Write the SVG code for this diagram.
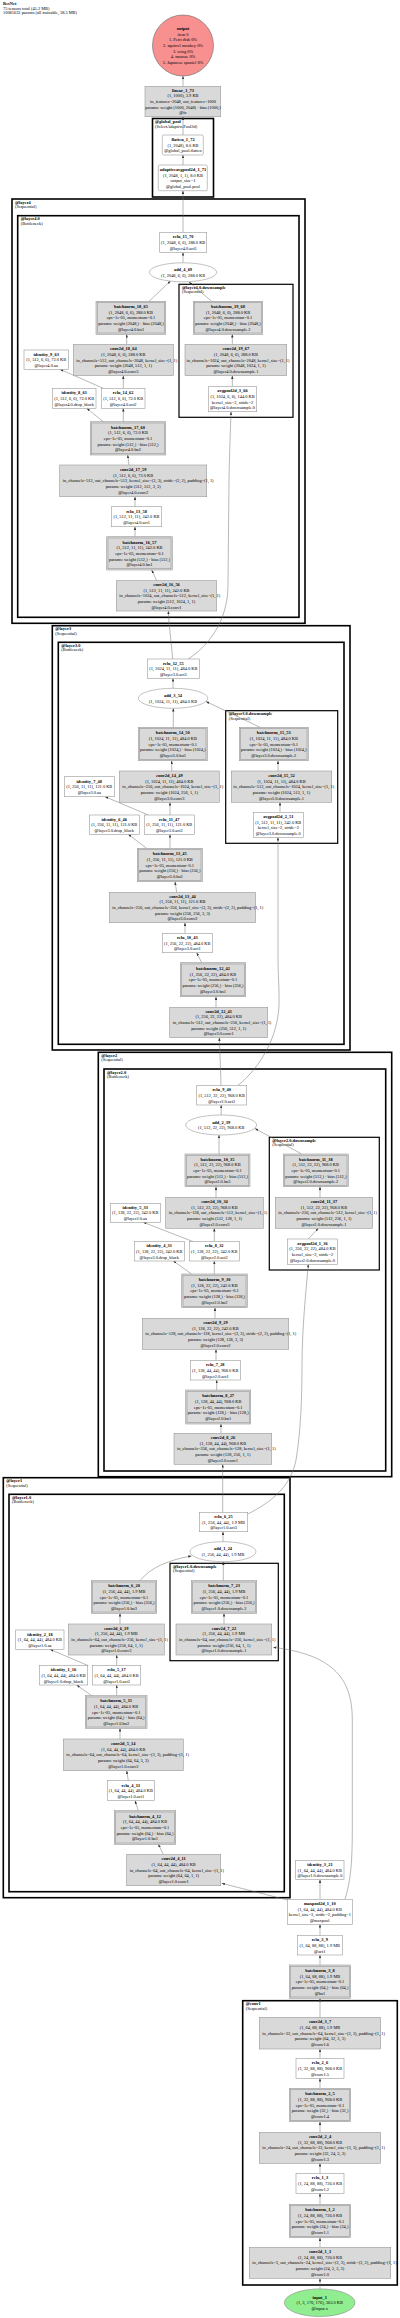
<svg xmlns="http://www.w3.org/2000/svg" width="400" height="2318" viewBox="0 0 400 2318">
<defs>
<marker id="a" markerWidth="3.2" markerHeight="2.4" refX="3.2" refY="1.2" orient="auto" markerUnits="userSpaceOnUse"><path d="M0,0 L3.2,1.2 L0,2.4 z" fill="#333"/></marker>
<style>
.t{font-family:"Liberation Serif",serif;font-size:4.4px;text-anchor:middle;fill:#000}
.b{font-weight:bold}
.s{text-anchor:start}
.p{fill:#d9d9d9;stroke:#999;stroke-width:0.6}
.w{fill:#fff;stroke:#999;stroke-width:0.6}
.d{fill:none;stroke:#999;stroke-width:0.6}
.c{fill:none;stroke:#000;stroke-width:1.6}
.c2{fill:none;stroke:#000;stroke-width:1.2}
.e{fill:none;stroke:#707070;stroke-width:0.5;marker-end:url(#a)}
</style>
</defs>
<rect width="400" height="2318" fill="#fff"/>
<g id="header">
<text class="t s b" x="3" y="5">ResNet</text>
<text class="t s" x="3" y="9.5">75 tensors total (45.2 MB)</text>
<text class="t s" x="3" y="13.8">10081632 params (all trainable, 38.5 MB)</text>
</g>
<g id="clusters">
<rect class="c" x="152.5" y="118.5" width="61" height="78.5"/>
<text class="t s b" x="155" y="123.2">@global_pool</text><text class="t s" x="155" y="127.5">(SelectAdaptivePool2d)</text>
<rect class="c" x="12" y="199" width="293" height="424.3"/>
<text class="t s b" x="15" y="203.7">@layer4</text><text class="t s" x="15" y="208">(Sequential)</text>
<rect class="c" x="17.7" y="215.7" width="281.3" height="401.6"/>
<text class="t s b" x="20.7" y="220.4">@layer4.0</text><text class="t s" x="20.7" y="224.7">(Bottleneck)</text>
<rect class="c2" x="179" y="284.3" width="114" height="133"/>
<text class="t s b" x="182" y="289">@layer4.0.downsample</text><text class="t s" x="182" y="293.3">(Sequential)</text>
<rect class="c" x="52.3" y="625.7" width="297.7" height="424.3"/>
<text class="t s b" x="55.3" y="630.4">@layer3</text><text class="t s" x="55.3" y="634.7">(Sequential)</text>
<rect class="c" x="58.3" y="642.3" width="285.7" height="402"/>
<text class="t s b" x="61.3" y="647">@layer3.0</text><text class="t s" x="61.3" y="651.3">(Bottleneck)</text>
<rect class="c2" x="225.7" y="710.7" width="112" height="132.6"/>
<text class="t s b" x="228.7" y="715.4">@layer3.0.downsample</text><text class="t s" x="228.7" y="719.7">(Sequential)</text>
<rect class="c" x="98.3" y="1052.3" width="293.4" height="424.4"/>
<text class="t s b" x="101.3" y="1057">@layer2</text><text class="t s" x="101.3" y="1061.3">(Sequential)</text>
<rect class="c" x="104" y="1069" width="281.7" height="402"/>
<text class="t s b" x="107" y="1073.7">@layer2.0</text><text class="t s" x="107" y="1078">(Bottleneck)</text>
<rect class="c2" x="269.3" y="1137.3" width="110" height="132.7"/>
<text class="t s b" x="272.3" y="1142">@layer2.0.downsample</text><text class="t s" x="272.3" y="1146.3">(Sequential)</text>
<rect class="c" x="3.3" y="1477.7" width="286.7" height="420"/>
<text class="t s b" x="6.3" y="1482.4">@layer1</text><text class="t s" x="6.3" y="1486.7">(Sequential)</text>
<rect class="c" x="9" y="1494.3" width="275.3" height="397.4"/>
<text class="t s b" x="12" y="1499">@layer1.0</text><text class="t s" x="12" y="1503.3">(Bottleneck)</text>
<rect class="c2" x="170" y="1563.3" width="108.3" height="97.4"/>
<text class="t s b" x="173" y="1568">@layer1.0.downsample</text><text class="t s" x="173" y="1572.3">(Sequential)</text>
<rect class="c" x="242.7" y="2000.7" width="154.6" height="284.3"/>
<text class="t s b" x="245.7" y="2005.4">@conv1</text><text class="t s" x="245.7" y="2009.7">(Sequential)</text>
</g>
<g id="connectors">
<path class="e" d="M183,86.3 L183,76"/>
<path class="e" d="M183,135 L183,116.7"/>
<path class="e" d="M183,165 L183,155"/>
<path class="e" d="M183,232.3 L183,190.7"/>
<path class="e" d="M183,262.8 L183,252.3"/>
<path class="e" d="M149,301.3 L170.5,281"/>
<path class="e" d="M211.7,301.3 L189,282"/>
<path class="e" d="M126.7,344.3 L126.7,334.3"/>
<path class="e" d="M232.3,344.3 L232.3,334.3"/>
<path class="e" d="M232.3,386.7 L232.3,375.7"/>
<path class="e" d="M103.3,388.3 L60,369.3"/>
<path class="e" d="M123.3,388.3 L123.3,375.7"/>
<path class="e" d="M103.3,421.7 L86.7,408.3"/>
<path class="e" d="M123.3,421.7 L123.3,408.3"/>
<path class="e" d="M129,465 L127.7,455"/>
<path class="e" d="M135,506.7 L135,496.7"/>
<path class="e" d="M135,536.7 L135,526.7"/>
<path class="e" d="M156.7,580.7 L151.7,570"/>
<path class="e" d="M172.7,659 C171,640 169,625 168.3,611"/>
<path class="e" d="M188.3,659 C214,642 228,615 228,585 L229,480 C229.5,450 230.5,430 231,411.7"/>
<path class="e" d="M173,688.3 L173,678.3"/>
<path class="e" d="M173.3,727.3 L173.3,708.3"/>
<path class="e" d="M260,727.3 L206,701.5"/>
<path class="e" d="M171.7,771 L171.7,760.7"/>
<path class="e" d="M278,771 L278,760.7"/>
<path class="e" d="M280,812.3 L280,802.3"/>
<path class="e" d="M148.3,815 L105,796.7"/>
<path class="e" d="M170,815 L170,802.3"/>
<path class="e" d="M146.7,848.3 L128.3,834.3"/>
<path class="e" d="M170,848.3 L170,834.3"/>
<path class="e" d="M176.7,892.3 L175,881.7"/>
<path class="e" d="M185,933.3 L185,922.7"/>
<path class="e" d="M201.7,962.7 L196.7,952.7"/>
<path class="e" d="M216,1007.3 L216,996.7"/>
<path class="e" d="M221,1085.7 C220.5,1065 219.7,1050 219.3,1037.7"/>
<path class="e" d="M237.7,1085.7 C262,1066 278,1035 279,1005 C279.5,990 278,975 278,960 L278,837.3"/>
<path class="e" d="M221.2,1115 L221.2,1105"/>
<path class="e" d="M219,1154 L219,1135"/>
<path class="e" d="M301.7,1154 L255,1128.5"/>
<path class="e" d="M216,1197.3 L216,1186.7"/>
<path class="e" d="M320,1197.3 L320,1186.7"/>
<path class="e" d="M308.3,1239 L318.3,1228.3"/>
<path class="e" d="M193.3,1241.7 L143.3,1222.3"/>
<path class="e" d="M214.3,1241.7 L214.3,1228.3"/>
<path class="e" d="M191.7,1274 L173.3,1261"/>
<path class="e" d="M214.3,1274 L214.3,1261"/>
<path class="e" d="M215,1318.3 L215,1307.7"/>
<path class="e" d="M216,1360.7 L216,1349.3"/>
<path class="e" d="M216.7,1390 L216.7,1380"/>
<path class="e" d="M221,1433.3 L221,1424"/>
<path class="e" d="M222.7,1512.3 L222.7,1464.3"/>
<path class="e" d="M247.7,1514 C272,1502 291,1486 296,1460 C301,1430 302,1395 302,1365 C302,1330 306,1290 308.3,1264.3"/>
<path class="e" d="M223,1541.7 L223,1531.7"/>
<path class="e" d="M140,1580.7 C150,1568 168,1560 191.5,1556"/>
<path class="e" d="M223.3,1580.7 L223.3,1561.7"/>
<path class="e" d="M120,1624 L120,1613.3"/>
<path class="e" d="M224,1624 L224,1613.3"/>
<path class="e" d="M345,1899.3 C351,1880 352.3,1860 352.3,1830 L352.3,1720 C352.3,1680 335,1655 273.3,1647.3"/>
<path class="e" d="M88.3,1665.7 L50,1649.3"/>
<path class="e" d="M116.7,1665.7 L116.7,1655"/>
<path class="e" d="M91.7,1695.7 L76.7,1685"/>
<path class="e" d="M116.7,1695.7 L116.7,1685"/>
<path class="e" d="M120,1739 L120,1728.3"/>
<path class="e" d="M128.3,1780.7 L126.7,1770.7"/>
<path class="e" d="M138.3,1810.7 L135,1800.7"/>
<path class="e" d="M163.3,1854.3 L158.3,1844.3"/>
<path class="e" d="M287.3,1900 L221.7,1883.3"/>
<path class="e" d="M320,1899.3 L320,1879.7"/>
<path class="e" d="M320,1935.7 L320,1924.3"/>
<path class="e" d="M320,1965 L320,1955"/>
<path class="e" d="M320,2017.3 L320,1998.3"/>
<path class="e" d="M320,2058.3 L320,2049"/>
<path class="e" d="M320,2088.3 L320,2078.3"/>
<path class="e" d="M320,2132.3 L320,2121.7"/>
<path class="e" d="M320,2173.3 L320,2163.3"/>
<path class="e" d="M320,2204.3 L320,2193.3"/>
<path class="e" d="M320,2247.3 L320,2237.7"/>
<path class="e" d="M320,2288.9 L320,2278.3"/>
</g>
<g id="output">
<circle cx="183" cy="45.5" r="30.5" fill="#f89090" stroke="#666" stroke-width="0.6"/>
<text class="t b" x="183" y="30">output</text>
<text class="t" x="183" y="35.7">item 0</text>
<text class="t" x="183" y="41.3">1. Petri dish 0%</text>
<text class="t" x="183" y="47">2. squirrel monkey 0%</text>
<text class="t" x="183" y="52.7">3. wing 0%</text>
<text class="t" x="183" y="58.3">4. mousse 0%</text>
<text class="t" x="183" y="64">5. Japanese spaniel 0%</text>
</g>
<g id="linear_1_73"><rect class="p" x="145" y="86.3" width="75.7" height="30.4"/>
<text class="t b" x="183" y="91.7">linear_1_73</text><text class="t" x="183" y="97.3">(1, 1000), 3.9 KB</text><text class="t" x="183" y="103">in_features=2048, out_features=1000</text><text class="t" x="183" y="108.7">params: weight (1000, 2048) · bias (1000,)</text><text class="t" x="183" y="114.3">@fc</text></g>
<g id="flatten_1_72"><rect class="w" x="162.3" y="135" width="41" height="20" rx="1.5"/>
<text class="t b" x="183" y="140.8">flatten_1_72</text><text class="t" x="183" y="146.5">(1, 2048), 8.0 KB</text><text class="t" x="183" y="152.2">@global_pool.flatten</text></g>
<g id="adaptiveavgpool2d_1_71"><rect class="w" x="158.3" y="165" width="49" height="25.7" rx="1.5"/>
<text class="t b" x="183" y="170.9">adaptiveavgpool2d_1_71</text><text class="t" x="183" y="176.5">(1, 2048, 1, 1), 8.0 KB</text><text class="t" x="183" y="182.2">output_size=1</text><text class="t" x="183" y="187.9">@global_pool.pool</text></g>
<g id="relu_15_70"><rect class="w" x="159.7" y="232.3" width="47" height="20"/>
<text class="t b" x="183.2" y="238.1">relu_15_70</text><text class="t" x="183.2" y="243.8">(1, 2048, 6, 6), 288.0 KB</text><text class="t" x="183.2" y="249.5">@layer4.0.act3</text></g>
<g id="add_4_69"><ellipse class="w" cx="183" cy="272.3" rx="33.7" ry="9.5"/>
<text class="t b" x="183" y="271">add_4_69</text><text class="t" x="183" y="276.7">(1, 2048, 6, 6), 288.0 KB</text></g>
<g id="batchnorm_18_65"><rect class="p" x="96" y="301.3" width="69.7" height="33"/><rect class="d" x="97.3" y="302.6" width="67.1" height="30.4"/>
<text class="t b" x="130.9" y="308">batchnorm_18_65</text><text class="t" x="130.9" y="313.6">(1, 2048, 6, 6), 288.0 KB</text><text class="t" x="130.9" y="319.3">eps=1e-05, momentum=0.1</text><text class="t" x="130.9" y="325">params: weight (2048,) · bias (2048,)</text><text class="t" x="130.9" y="330.6">@layer4.0.bn3</text></g>
<g id="batchnorm_19_68"><rect class="p" x="193.3" y="301.3" width="69.4" height="33"/><rect class="d" x="194.6" y="302.6" width="66.8" height="30.4"/>
<text class="t b" x="228" y="308">batchnorm_19_68</text><text class="t" x="228" y="313.6">(1, 2048, 6, 6), 288.0 KB</text><text class="t" x="228" y="319.3">eps=1e-05, momentum=0.1</text><text class="t" x="228" y="325">params: weight (2048,) · bias (2048,)</text><text class="t" x="228" y="330.6">@layer4.0.downsample.2</text></g>
<g id="conv2d_18_64"><rect class="p" x="73.3" y="344.3" width="100" height="31.4"/>
<text class="t b" x="123.3" y="350.2">conv2d_18_64</text><text class="t" x="123.3" y="355.8">(1, 2048, 6, 6), 288.0 KB</text><text class="t s" x="76.3" y="361.5">in_channels=512, out_channels=2048, kernel_size=(1, 1)</text><text class="t" x="123.3" y="367.2">params: weight (2048, 512, 1, 1)</text><text class="t" x="123.3" y="372.8">@layer4.0.conv3</text></g>
<g id="conv2d_19_67"><rect class="p" x="185" y="344.3" width="101.7" height="31.4"/>
<text class="t b" x="235.9" y="350.2">conv2d_19_67</text><text class="t" x="235.9" y="355.8">(1, 2048, 6, 6), 288.0 KB</text><text class="t s" x="186.5" y="361.5">in_channels=1024, out_channels=2048, kernel_size=(1, 1)</text><text class="t" x="235.9" y="367.2">params: weight (2048, 1024, 1, 1)</text><text class="t" x="235.9" y="372.8">@layer4.0.downsample.1</text></g>
<g id="identity_9_63"><rect class="w" x="24" y="350" width="44.3" height="19.3"/>
<text class="t b" x="46.2" y="355.5">identity_9_63</text><text class="t" x="46.2" y="361.2">(1, 512, 6, 6), 72.0 KB</text><text class="t" x="46.2" y="366.8">@layer4.0.aa</text></g>
<g id="avgpool2d_3_66"><rect class="w" x="208.3" y="386.7" width="48.4" height="25"/>
<text class="t b" x="232.5" y="392.2">avgpool2d_3_66</text><text class="t" x="232.5" y="397.9">(1, 1024, 6, 6), 144.0 KB</text><text class="t" x="232.5" y="403.5">kernel_size=2, stride=2</text><text class="t" x="232.5" y="409.2">@layer4.0.downsample.0</text></g>
<g id="identity_8_61"><rect class="w" x="52.3" y="388.3" width="43.7" height="20"/>
<text class="t b" x="74.2" y="394.1">identity_8_61</text><text class="t" x="74.2" y="399.8">(1, 512, 6, 6), 72.0 KB</text><text class="t" x="74.2" y="405.5">@layer4.0.drop_block</text></g>
<g id="relu_14_62"><rect class="w" x="101.3" y="388.3" width="43.7" height="20"/>
<text class="t b" x="123.2" y="394.1">relu_14_62</text><text class="t" x="123.2" y="399.8">(1, 512, 6, 6), 72.0 KB</text><text class="t" x="123.2" y="405.5">@layer4.0.act2</text></g>
<g id="batchnorm_17_60"><rect class="p" x="90.3" y="421.7" width="75.4" height="33.3"/><rect class="d" x="91.6" y="423" width="72.8" height="30.7"/>
<text class="t b" x="128" y="428.5">batchnorm_17_60</text><text class="t" x="128" y="434.2">(1, 512, 6, 6), 72.0 KB</text><text class="t" x="128" y="439.9">eps=1e-05, momentum=0.1</text><text class="t" x="128" y="445.5">params: weight (512,) · bias (512,)</text><text class="t" x="128" y="451.2">@layer4.0.bn2</text></g>
<g id="conv2d_17_59"><rect class="p" x="59.7" y="465" width="147" height="31.7"/>
<text class="t b" x="133.2" y="471">conv2d_17_59</text><text class="t" x="133.2" y="476.7">(1, 512, 6, 6), 72.0 KB</text><text class="t s" x="62.7" y="482.4">in_channels=512, out_channels=512, kernel_size=(3, 3), stride=(2, 2), padding=(1, 1)</text><text class="t" x="133.2" y="488">params: weight (512, 512, 3, 3)</text><text class="t" x="133.2" y="493.7">@layer4.0.conv2</text></g>
<g id="relu_13_58"><rect class="w" x="111.3" y="506.7" width="50.4" height="20"/>
<text class="t b" x="136.5" y="512.5">relu_13_58</text><text class="t" x="136.5" y="518.2">(1, 512, 11, 11), 242.0 KB</text><text class="t" x="136.5" y="523.9">@layer4.0.act1</text></g>
<g id="batchnorm_16_57"><rect class="p" x="106.7" y="536.7" width="65.6" height="33.3"/><rect class="d" x="108" y="538" width="63" height="30.7"/>
<text class="t b" x="139.5" y="543.5">batchnorm_16_57</text><text class="t" x="139.5" y="549.2">(1, 512, 11, 11), 242.0 KB</text><text class="t" x="139.5" y="554.9">eps=1e-05, momentum=0.1</text><text class="t" x="139.5" y="560.5">params: weight (512,) · bias (512,)</text><text class="t" x="139.5" y="566.2">@layer4.0.bn1</text></g>
<g id="conv2d_16_56"><rect class="p" x="116.3" y="580.7" width="100.4" height="30.3"/>
<text class="t b" x="166.5" y="586">conv2d_16_56</text><text class="t" x="166.5" y="591.7">(1, 512, 11, 11), 242.0 KB</text><text class="t s" x="119.3" y="597.4">in_channels=1024, out_channels=512, kernel_size=(1, 1)</text><text class="t" x="166.5" y="603">params: weight (512, 1024, 1, 1)</text><text class="t" x="166.5" y="608.7">@layer4.0.conv1</text></g>
<g id="relu_12_55"><rect class="w" x="147.3" y="659" width="52" height="19.3"/>
<text class="t b" x="173.3" y="664.5">relu_12_55</text><text class="t" x="173.3" y="670.2">(1, 1024, 11, 11), 484.0 KB</text><text class="t" x="173.3" y="675.8">@layer3.0.act3</text></g>
<g id="add_3_54"><ellipse class="w" cx="173" cy="698.3" rx="34.7" ry="10"/>
<text class="t b" x="173" y="697">add_3_54</text><text class="t" x="173" y="702.6">(1, 1024, 11, 11), 484.0 KB</text></g>
<g id="batchnorm_14_50"><rect class="p" x="138.3" y="727.3" width="69" height="33.4"/><rect class="d" x="139.6" y="728.6" width="66.4" height="30.8"/>
<text class="t b" x="172.8" y="734.2">batchnorm_14_50</text><text class="t" x="172.8" y="739.8">(1, 1024, 11, 11), 484.0 KB</text><text class="t" x="172.8" y="745.5">eps=1e-05, momentum=0.1</text><text class="t" x="172.8" y="751.2">params: weight (1024,) · bias (1024,)</text><text class="t" x="172.8" y="756.8">@layer3.0.bn3</text></g>
<g id="batchnorm_15_53"><rect class="p" x="239.3" y="727.3" width="69" height="33.4"/><rect class="d" x="240.6" y="728.6" width="66.4" height="30.8"/>
<text class="t b" x="273.8" y="734.2">batchnorm_15_53</text><text class="t" x="273.8" y="739.8">(1, 1024, 11, 11), 484.0 KB</text><text class="t" x="273.8" y="745.5">eps=1e-05, momentum=0.1</text><text class="t" x="273.8" y="751.2">params: weight (1024,) · bias (1024,)</text><text class="t" x="273.8" y="756.8">@layer3.0.downsample.2</text></g>
<g id="conv2d_14_49"><rect class="p" x="119.3" y="771" width="100" height="31.3"/>
<text class="t b" x="169.3" y="776.8">conv2d_14_49</text><text class="t" x="169.3" y="782.5">(1, 1024, 11, 11), 484.0 KB</text><text class="t s" x="122.3" y="788.2">in_channels=256, out_channels=1024, kernel_size=(1, 1)</text><text class="t" x="169.3" y="793.8">params: weight (1024, 256, 1, 1)</text><text class="t" x="169.3" y="799.5">@layer3.0.conv3</text></g>
<g id="conv2d_15_52"><rect class="p" x="231.3" y="771" width="100.4" height="31.3"/>
<text class="t b" x="281.5" y="776.8">conv2d_15_52</text><text class="t" x="281.5" y="782.5">(1, 1024, 11, 11), 484.0 KB</text><text class="t s" x="233.3" y="788.2">in_channels=512, out_channels=1024, kernel_size=(1, 1)</text><text class="t" x="281.5" y="793.8">params: weight (1024, 512, 1, 1)</text><text class="t" x="281.5" y="799.5">@layer3.0.downsample.1</text></g>
<g id="identity_7_48"><rect class="w" x="64.3" y="776.7" width="50" height="20"/>
<text class="t b" x="89.3" y="782.5">identity_7_48</text><text class="t" x="89.3" y="788.2">(1, 256, 11, 11), 121.0 KB</text><text class="t" x="89.3" y="793.9">@layer3.0.aa</text></g>
<g id="identity_6_46"><rect class="w" x="89.3" y="815" width="50" height="19.3"/>
<text class="t b" x="114.3" y="820.5">identity_6_46</text><text class="t" x="114.3" y="826.2">(1, 256, 11, 11), 121.0 KB</text><text class="t" x="114.3" y="831.8">@layer3.0.drop_block</text></g>
<g id="relu_11_47"><rect class="w" x="144.3" y="815" width="50" height="19.3"/>
<text class="t b" x="169.3" y="820.5">relu_11_47</text><text class="t" x="169.3" y="826.2">(1, 256, 11, 11), 121.0 KB</text><text class="t" x="169.3" y="831.8">@layer3.0.act2</text></g>
<g id="avgpool2d_2_51"><rect class="w" x="253.3" y="812.3" width="50" height="25"/>
<text class="t b" x="278.3" y="817.8">avgpool2d_2_51</text><text class="t" x="278.3" y="823.5">(1, 512, 11, 11), 242.0 KB</text><text class="t" x="278.3" y="829.1">kernel_size=2, stride=2</text><text class="t" x="278.3" y="834.8">@layer3.0.downsample.0</text></g>
<g id="batchnorm_13_45"><rect class="p" x="137.3" y="848.3" width="65" height="33.4"/><rect class="d" x="138.6" y="849.6" width="62.4" height="30.8"/>
<text class="t b" x="169.8" y="855.2">batchnorm_13_45</text><text class="t" x="169.8" y="860.8">(1, 256, 11, 11), 121.0 KB</text><text class="t" x="169.8" y="866.5">eps=1e-05, momentum=0.1</text><text class="t" x="169.8" y="872.2">params: weight (256,) · bias (256,)</text><text class="t" x="169.8" y="877.8">@layer3.0.bn2</text></g>
<g id="conv2d_13_44"><rect class="p" x="109.3" y="892.3" width="146.4" height="30.4"/>
<text class="t b" x="182.5" y="897.7">conv2d_13_44</text><text class="t" x="182.5" y="903.3">(1, 256, 11, 11), 121.0 KB</text><text class="t s" x="112.3" y="909">in_channels=256, out_channels=256, kernel_size=(3, 3), stride=(2, 2), padding=(1, 1)</text><text class="t" x="182.5" y="914.7">params: weight (256, 256, 3, 3)</text><text class="t" x="182.5" y="920.3">@layer3.0.conv2</text></g>
<g id="relu_10_43"><rect class="w" x="162.3" y="933.3" width="50" height="19.4"/>
<text class="t b" x="187.3" y="938.8">relu_10_43</text><text class="t" x="187.3" y="944.5">(1, 256, 22, 22), 484.0 KB</text><text class="t" x="187.3" y="950.2">@layer3.0.act1</text></g>
<g id="batchnorm_12_42"><rect class="p" x="180.3" y="962.7" width="65.4" height="34"/><rect class="d" x="181.6" y="964" width="62.8" height="31.4"/>
<text class="t b" x="213" y="969.9">batchnorm_12_42</text><text class="t" x="213" y="975.5">(1, 256, 22, 22), 484.0 KB</text><text class="t" x="213" y="981.2">eps=1e-05, momentum=0.1</text><text class="t" x="213" y="986.9">params: weight (256,) · bias (256,)</text><text class="t" x="213" y="992.5">@layer3.0.bn1</text></g>
<g id="conv2d_12_41"><rect class="p" x="169.7" y="1007.3" width="98" height="30.4"/>
<text class="t b" x="218.7" y="1012.7">conv2d_12_41</text><text class="t" x="218.7" y="1018.3">(1, 256, 22, 22), 484.0 KB</text><text class="t s" x="172.7" y="1024">in_channels=512, out_channels=256, kernel_size=(1, 1)</text><text class="t" x="218.7" y="1029.7">params: weight (256, 512, 1, 1)</text><text class="t" x="218.7" y="1035.3">@layer3.0.conv1</text></g>
<g id="relu_9_40"><rect class="w" x="196.7" y="1085.7" width="50" height="19.3"/>
<text class="t b" x="221.7" y="1091.2">relu_9_40</text><text class="t" x="221.7" y="1096.9">(1, 512, 22, 22), 968.0 KB</text><text class="t" x="221.7" y="1102.5">@layer2.0.act3</text></g>
<g id="add_2_39"><ellipse class="w" cx="221.2" cy="1125" rx="35.5" ry="10"/>
<text class="t b" x="221.2" y="1123.7">add_2_39</text><text class="t" x="221.2" y="1129.3">(1, 512, 22, 22), 968.0 KB</text></g>
<g id="batchnorm_10_35"><rect class="p" x="185" y="1154" width="65" height="32.7"/><rect class="d" x="186.3" y="1155.3" width="62.4" height="30.1"/>
<text class="t b" x="217.5" y="1160.5">batchnorm_10_35</text><text class="t" x="217.5" y="1166.2">(1, 512, 22, 22), 968.0 KB</text><text class="t" x="217.5" y="1171.9">eps=1e-05, momentum=0.1</text><text class="t" x="217.5" y="1177.5">params: weight (512,) · bias (512,)</text><text class="t" x="217.5" y="1183.2">@layer2.0.bn3</text></g>
<g id="batchnorm_11_38"><rect class="p" x="283.3" y="1154" width="65" height="32.7"/><rect class="d" x="284.6" y="1155.3" width="62.4" height="30.1"/>
<text class="t b" x="315.8" y="1160.5">batchnorm_11_38</text><text class="t" x="315.8" y="1166.2">(1, 512, 22, 22), 968.0 KB</text><text class="t" x="315.8" y="1171.9">eps=1e-05, momentum=0.1</text><text class="t" x="315.8" y="1177.5">params: weight (512,) · bias (512,)</text><text class="t" x="315.8" y="1183.2">@layer2.0.downsample.2</text></g>
<g id="conv2d_10_34"><rect class="p" x="165.7" y="1197.3" width="97.6" height="31"/>
<text class="t b" x="214.5" y="1203">conv2d_10_34</text><text class="t" x="214.5" y="1208.6">(1, 512, 22, 22), 968.0 KB</text><text class="t s" x="168.7" y="1214.3">in_channels=128, out_channels=512, kernel_size=(1, 1)</text><text class="t" x="214.5" y="1220">params: weight (512, 128, 1, 1)</text><text class="t" x="214.5" y="1225.6">@layer2.0.conv3</text></g>
<g id="conv2d_11_37"><rect class="p" x="275.3" y="1197.3" width="97.4" height="31"/>
<text class="t b" x="324" y="1203">conv2d_11_37</text><text class="t" x="324" y="1208.6">(1, 512, 22, 22), 968.0 KB</text><text class="t s" x="278.3" y="1214.3">in_channels=256, out_channels=512, kernel_size=(1, 1)</text><text class="t" x="324" y="1220">params: weight (512, 256, 1, 1)</text><text class="t" x="324" y="1225.6">@layer2.0.downsample.1</text></g>
<g id="identity_5_33"><rect class="w" x="110.3" y="1203.3" width="50" height="19"/>
<text class="t b" x="135.3" y="1208.6">identity_5_33</text><text class="t" x="135.3" y="1214.3">(1, 128, 22, 22), 242.0 KB</text><text class="t" x="135.3" y="1220">@layer2.0.aa</text></g>
<g id="identity_4_31"><rect class="w" x="134.3" y="1241.7" width="50" height="19.3"/>
<text class="t b" x="159.3" y="1247.2">identity_4_31</text><text class="t" x="159.3" y="1252.9">(1, 128, 22, 22), 242.0 KB</text><text class="t" x="159.3" y="1258.5">@layer2.0.drop_block</text></g>
<g id="relu_8_32"><rect class="w" x="189.3" y="1241.7" width="50" height="19.3"/>
<text class="t b" x="214.3" y="1247.2">relu_8_32</text><text class="t" x="214.3" y="1252.9">(1, 128, 22, 22), 242.0 KB</text><text class="t" x="214.3" y="1258.5">@layer2.0.act2</text></g>
<g id="avgpool2d_1_36"><rect class="w" x="287.3" y="1239" width="50.4" height="25.3"/>
<text class="t b" x="312.5" y="1244.7">avgpool2d_1_36</text><text class="t" x="312.5" y="1250.3">(1, 256, 22, 22), 484.0 KB</text><text class="t" x="312.5" y="1256">kernel_size=2, stride=2</text><text class="t" x="312.5" y="1261.7">@layer2.0.downsample.0</text></g>
<g id="batchnorm_9_30"><rect class="p" x="181.7" y="1274" width="65.6" height="33.7"/><rect class="d" x="183" y="1275.3" width="63" height="31.1"/>
<text class="t b" x="214.5" y="1281">batchnorm_9_30</text><text class="t" x="214.5" y="1286.7">(1, 128, 22, 22), 242.0 KB</text><text class="t" x="214.5" y="1292.4">eps=1e-05, momentum=0.1</text><text class="t" x="214.5" y="1298">params: weight (128,) · bias (128,)</text><text class="t" x="214.5" y="1303.7">@layer2.0.bn2</text></g>
<g id="conv2d_9_29"><rect class="p" x="142.3" y="1318.3" width="146.4" height="31"/>
<text class="t b" x="215.5" y="1324">conv2d_9_29</text><text class="t" x="215.5" y="1329.6">(1, 128, 22, 22), 242.0 KB</text><text class="t s" x="145.3" y="1335.3">in_channels=128, out_channels=128, kernel_size=(3, 3), stride=(2, 2), padding=(1, 1)</text><text class="t" x="215.5" y="1341">params: weight (128, 128, 3, 3)</text><text class="t" x="215.5" y="1346.6">@layer2.0.conv2</text></g>
<g id="relu_7_28"><rect class="w" x="190.3" y="1360.7" width="50" height="19.3"/>
<text class="t b" x="215.3" y="1366.2">relu_7_28</text><text class="t" x="215.3" y="1371.9">(1, 128, 44, 44), 968.0 KB</text><text class="t" x="215.3" y="1377.5">@layer2.0.act1</text></g>
<g id="batchnorm_8_27"><rect class="p" x="185.7" y="1390" width="65" height="34"/><rect class="d" x="187" y="1391.3" width="62.4" height="31.4"/>
<text class="t b" x="218.2" y="1397.2">batchnorm_8_27</text><text class="t" x="218.2" y="1402.8">(1, 128, 44, 44), 968.0 KB</text><text class="t" x="218.2" y="1408.5">eps=1e-05, momentum=0.1</text><text class="t" x="218.2" y="1414.2">params: weight (128,) · bias (128,)</text><text class="t" x="218.2" y="1419.8">@layer2.0.bn1</text></g>
<g id="conv2d_8_26"><rect class="p" x="174" y="1433.3" width="97.7" height="31"/>
<text class="t b" x="222.9" y="1439">conv2d_8_26</text><text class="t" x="222.9" y="1444.6">(1, 128, 44, 44), 968.0 KB</text><text class="t s" x="177" y="1450.3">in_channels=256, out_channels=128, kernel_size=(1, 1)</text><text class="t" x="222.9" y="1456">params: weight (128, 256, 1, 1)</text><text class="t" x="222.9" y="1461.6">@layer2.0.conv1</text></g>
<g id="relu_6_25"><rect class="w" x="199.3" y="1512.3" width="48.4" height="19.4"/>
<text class="t b" x="223.5" y="1517.8">relu_6_25</text><text class="t" x="223.5" y="1523.5">(1, 256, 44, 44), 1.9 MB</text><text class="t" x="223.5" y="1529.2">@layer1.0.act3</text></g>
<g id="add_1_24"><ellipse class="w" cx="223" cy="1551.7" rx="33" ry="10"/>
<text class="t b" x="223" y="1550.4">add_1_24</text><text class="t" x="223" y="1556">(1, 256, 44, 44), 1.9 MB</text></g>
<g id="batchnorm_6_20"><rect class="p" x="91.3" y="1580.7" width="65.4" height="32.6"/><rect class="d" x="92.6" y="1582" width="62.8" height="30"/>
<text class="t b" x="124" y="1587.2">batchnorm_6_20</text><text class="t" x="124" y="1592.8">(1, 256, 44, 44), 1.9 MB</text><text class="t" x="124" y="1598.5">eps=1e-05, momentum=0.1</text><text class="t" x="124" y="1604.2">params: weight (256,) · bias (256,)</text><text class="t" x="124" y="1609.8">@layer1.0.bn3</text></g>
<g id="batchnorm_7_23"><rect class="p" x="191.3" y="1580.7" width="65.4" height="32.6"/><rect class="d" x="192.6" y="1582" width="62.8" height="30"/>
<text class="t b" x="224" y="1587.2">batchnorm_7_23</text><text class="t" x="224" y="1592.8">(1, 256, 44, 44), 1.9 MB</text><text class="t" x="224" y="1598.5">eps=1e-05, momentum=0.1</text><text class="t" x="224" y="1604.2">params: weight (256,) · bias (256,)</text><text class="t" x="224" y="1609.8">@layer1.0.downsample.2</text></g>
<g id="conv2d_6_19"><rect class="p" x="68.3" y="1624" width="96" height="31"/>
<text class="t b" x="116.3" y="1629.7">conv2d_6_19</text><text class="t" x="116.3" y="1635.3">(1, 256, 44, 44), 1.9 MB</text><text class="t s" x="71.3" y="1641">in_channels=64, out_channels=256, kernel_size=(1, 1)</text><text class="t" x="116.3" y="1646.7">params: weight (256, 64, 1, 1)</text><text class="t" x="116.3" y="1652.3">@layer1.0.conv3</text></g>
<g id="conv2d_7_22"><rect class="p" x="176" y="1624" width="95.7" height="31"/>
<text class="t b" x="223.9" y="1629.7">conv2d_7_22</text><text class="t" x="223.9" y="1635.3">(1, 256, 44, 44), 1.9 MB</text><text class="t s" x="179" y="1641">in_channels=64, out_channels=256, kernel_size=(1, 1)</text><text class="t" x="223.9" y="1646.7">params: weight (256, 64, 1, 1)</text><text class="t" x="223.9" y="1652.3">@layer1.0.downsample.1</text></g>
<g id="identity_2_18"><rect class="w" x="15.7" y="1630" width="48.3" height="19.3"/>
<text class="t b" x="39.9" y="1635.5">identity_2_18</text><text class="t" x="39.9" y="1641.2">(1, 64, 44, 44), 484.0 KB</text><text class="t" x="39.9" y="1646.8">@layer1.0.aa</text></g>
<g id="identity_1_16"><rect class="w" x="39.3" y="1665.7" width="48.4" height="19.3"/>
<text class="t b" x="63.5" y="1671.2">identity_1_16</text><text class="t" x="63.5" y="1676.9">(1, 64, 44, 44), 484.0 KB</text><text class="t" x="63.5" y="1682.5">@layer1.0.drop_block</text></g>
<g id="relu_5_17"><rect class="w" x="92.3" y="1665.7" width="48.4" height="19.3"/>
<text class="t b" x="116.5" y="1671.2">relu_5_17</text><text class="t" x="116.5" y="1676.9">(1, 64, 44, 44), 484.0 KB</text><text class="t" x="116.5" y="1682.5">@layer1.0.act2</text></g>
<g id="batchnorm_5_15"><rect class="p" x="85.3" y="1695.7" width="61.7" height="32.6"/><rect class="d" x="86.6" y="1697" width="59.1" height="30"/>
<text class="t b" x="116.2" y="1702.2">batchnorm_5_15</text><text class="t" x="116.2" y="1707.8">(1, 64, 44, 44), 484.0 KB</text><text class="t" x="116.2" y="1713.5">eps=1e-05, momentum=0.1</text><text class="t" x="116.2" y="1719.2">params: weight (64,) · bias (64,)</text><text class="t" x="116.2" y="1724.8">@layer1.0.bn2</text></g>
<g id="conv2d_5_14"><rect class="p" x="63.3" y="1739" width="120" height="31.7"/>
<text class="t b" x="123.3" y="1745">conv2d_5_14</text><text class="t" x="123.3" y="1750.7">(1, 64, 44, 44), 484.0 KB</text><text class="t s" x="66.3" y="1756.4">in_channels=64, out_channels=64, kernel_size=(3, 3), padding=(1, 1)</text><text class="t" x="123.3" y="1762">params: weight (64, 64, 3, 3)</text><text class="t" x="123.3" y="1767.7">@layer1.0.conv2</text></g>
<g id="relu_4_13"><rect class="w" x="107.3" y="1780.7" width="47" height="20"/>
<text class="t b" x="130.8" y="1786.5">relu_4_13</text><text class="t" x="130.8" y="1792.2">(1, 64, 44, 44), 484.0 KB</text><text class="t" x="130.8" y="1797.9">@layer1.0.act1</text></g>
<g id="batchnorm_4_12"><rect class="p" x="114.3" y="1810.7" width="61.4" height="33.6"/><rect class="d" x="115.6" y="1812" width="58.8" height="31"/>
<text class="t b" x="145" y="1817.7">batchnorm_4_12</text><text class="t" x="145" y="1823.3">(1, 64, 44, 44), 484.0 KB</text><text class="t" x="145" y="1829">eps=1e-05, momentum=0.1</text><text class="t" x="145" y="1834.7">params: weight (64,) · bias (64,)</text><text class="t" x="145" y="1840.3">@layer1.0.bn1</text></g>
<g id="conv2d_4_11"><rect class="p" x="126.7" y="1854.3" width="94" height="31.4"/>
<text class="t b" x="173.7" y="1860.2">conv2d_4_11</text><text class="t" x="173.7" y="1865.8">(1, 64, 44, 44), 484.0 KB</text><text class="t s" x="129.7" y="1871.5">in_channels=64, out_channels=64, kernel_size=(1, 1)</text><text class="t" x="173.7" y="1877.2">params: weight (64, 64, 1, 1)</text><text class="t" x="173.7" y="1882.8">@layer1.0.conv1</text></g>
<g id="identity_3_21"><rect class="w" x="295.7" y="1860.7" width="48.3" height="19"/>
<text class="t b" x="319.9" y="1866">identity_3_21</text><text class="t" x="319.9" y="1871.7">(1, 64, 44, 44), 484.0 KB</text><text class="t" x="319.9" y="1877.4">@layer1.0.downsample.0</text></g>
<g id="maxpool2d_1_10"><rect class="w" x="287.3" y="1899.3" width="65" height="25"/>
<text class="t b" x="319.8" y="1904.8">maxpool2d_1_10</text><text class="t" x="319.8" y="1910.5">(1, 64, 44, 44), 484.0 KB</text><text class="t" x="319.8" y="1916.1">kernel_size=3, stride=2, padding=1</text><text class="t" x="319.8" y="1921.8">@maxpool</text></g>
<g id="relu_3_9"><rect class="w" x="297.3" y="1935.7" width="45" height="19.3"/>
<text class="t b" x="319.8" y="1941.2">relu_3_9</text><text class="t" x="319.8" y="1946.9">(1, 64, 88, 88), 1.9 MB</text><text class="t" x="319.8" y="1952.5">@act1</text></g>
<g id="batchnorm_3_8"><rect class="p" x="289.3" y="1965" width="61.4" height="33.3"/><rect class="d" x="290.6" y="1966.3" width="58.8" height="30.7"/>
<text class="t b" x="320" y="1971.8">batchnorm_3_8</text><text class="t" x="320" y="1977.5">(1, 64, 88, 88), 1.9 MB</text><text class="t" x="320" y="1983.2">eps=1e-05, momentum=0.1</text><text class="t" x="320" y="1988.8">params: weight (64,) · bias (64,)</text><text class="t" x="320" y="1994.5">@bn1</text></g>
<g id="conv2d_3_7"><rect class="p" x="259.3" y="2017.3" width="121.4" height="31.7"/>
<text class="t b" x="320" y="2023.3">conv2d_3_7</text><text class="t" x="320" y="2029">(1, 64, 88, 88), 1.9 MB</text><text class="t s" x="262.3" y="2034.7">in_channels=32, out_channels=64, kernel_size=(3, 3), padding=(1, 1)</text><text class="t" x="320" y="2040.3">params: weight (64, 32, 3, 3)</text><text class="t" x="320" y="2046">@conv1.6</text></g>
<g id="relu_2_6"><rect class="w" x="296" y="2058.3" width="48" height="20"/>
<text class="t b" x="320" y="2064.1">relu_2_6</text><text class="t" x="320" y="2069.8">(1, 32, 88, 88), 968.0 KB</text><text class="t" x="320" y="2075.5">@conv1.5</text></g>
<g id="batchnorm_2_5"><rect class="p" x="289.3" y="2088.3" width="61.4" height="33.4"/><rect class="d" x="290.6" y="2089.6" width="58.8" height="30.8"/>
<text class="t b" x="320" y="2095.2">batchnorm_2_5</text><text class="t" x="320" y="2100.8">(1, 32, 88, 88), 968.0 KB</text><text class="t" x="320" y="2106.5">eps=1e-05, momentum=0.1</text><text class="t" x="320" y="2112.2">params: weight (32,) · bias (32,)</text><text class="t" x="320" y="2117.8">@conv1.4</text></g>
<g id="conv2d_2_4"><rect class="p" x="259.3" y="2132.3" width="121.4" height="31"/>
<text class="t b" x="320" y="2138">conv2d_2_4</text><text class="t" x="320" y="2143.6">(1, 32, 88, 88), 968.0 KB</text><text class="t s" x="262.3" y="2149.3">in_channels=24, out_channels=32, kernel_size=(3, 3), padding=(1, 1)</text><text class="t" x="320" y="2155">params: weight (32, 24, 3, 3)</text><text class="t" x="320" y="2160.6">@conv1.3</text></g>
<g id="relu_1_3"><rect class="w" x="296" y="2173.3" width="48" height="20"/>
<text class="t b" x="320" y="2179.1">relu_1_3</text><text class="t" x="320" y="2184.8">(1, 24, 88, 88), 726.0 KB</text><text class="t" x="320" y="2190.5">@conv1.2</text></g>
<g id="batchnorm_1_2"><rect class="p" x="289.3" y="2204.3" width="61.4" height="33.4"/><rect class="d" x="290.6" y="2205.6" width="58.8" height="30.8"/>
<text class="t b" x="320" y="2211.2">batchnorm_1_2</text><text class="t" x="320" y="2216.8">(1, 24, 88, 88), 726.0 KB</text><text class="t" x="320" y="2222.5">eps=1e-05, momentum=0.1</text><text class="t" x="320" y="2228.2">params: weight (24,) · bias (24,)</text><text class="t" x="320" y="2233.8">@conv1.1</text></g>
<g id="conv2d_1_1"><rect class="p" x="249.3" y="2247.3" width="141.4" height="31"/>
<text class="t b" x="320" y="2253">conv2d_1_1</text><text class="t" x="320" y="2258.6">(1, 24, 88, 88), 726.0 KB</text><text class="t s" x="252.3" y="2264.3">in_channels=3, out_channels=24, kernel_size=(3, 3), stride=(2, 2), padding=(1, 1)</text><text class="t" x="320" y="2270">params: weight (24, 3, 3, 3)</text><text class="t" x="320" y="2275.6">@conv1.0</text></g>
<g id="input_1"><ellipse cx="319.7" cy="2302.7" rx="35.3" ry="13.8" fill="#90ee90" stroke="#888" stroke-width="0.6"/>
<text class="t b" x="319.7" y="2298.5">input_1</text><text class="t" x="319.7" y="2304.2">(1, 3, 176, 176), 363.0 KB</text><text class="t" x="319.7" y="2309.9">@input.x</text></g>
</svg>
